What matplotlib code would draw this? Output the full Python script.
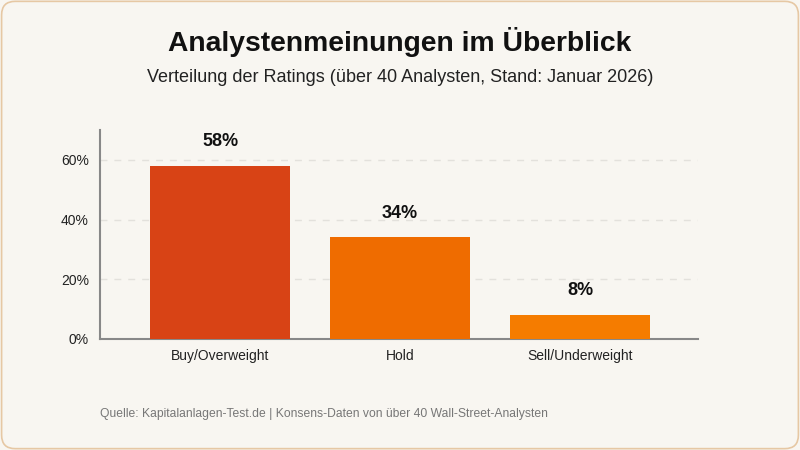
import matplotlib.pyplot as plt
from matplotlib.patches import FancyBboxPatch
from matplotlib.ticker import FuncFormatter

plt.rcParams["font.family"] = ["Liberation Sans", "DejaVu Sans"]

categories = ["Buy/Overweight", "Hold", "Sell/Underweight"]
shares = [58, 34, 8]
bar_colors = ["#d84315", "#ef6c00", "#f57c00"]
y_ticks = [0, 20, 40, 60]

bg = "#f8f6f1"

fig = plt.figure(figsize=(8, 4.5), dpi=100)
fig.patch.set_facecolor(bg)

# rounded frame around the whole card
frame = FancyBboxPatch((0.002, 0.003), 0.996, 0.994,
                       boxstyle="round,pad=0,rounding_size=0.017",
                       transform=fig.transFigure, facecolor=bg,
                       edgecolor="#e6c8a4", linewidth=1.2, zorder=-1,
                       mutation_aspect=800 / 450)
fig.patches.append(frame)

ax = fig.add_axes([100 / 800, 1 - 339 / 450, 598 / 800, 209 / 450])
ax.set_facecolor(bg)

x = range(len(categories))
bars = ax.bar(x, shares, width=0.78, color=bar_colors, zorder=3)

for i, v in enumerate(shares):
    ax.text(i, v + 5.3, f"{v}%", ha="center", va="bottom",
            fontsize=13, fontweight="bold", color="#111111")

ax.set_xlim(-0.667, 2.656)
ax.set_ylim(0, 70)
ax.set_yticks(y_ticks)
ax.yaxis.set_major_formatter(FuncFormatter(lambda v, p: f"{v:.0f}%"))
ax.set_xticks(list(x))
ax.set_xticklabels(categories)
ax.tick_params(axis="both", length=0, labelsize=10, colors="#222222")
ax.tick_params(axis="x", pad=7)
ax.tick_params(axis="y", pad=8)

ax.grid(axis="y", linestyle=(0, (5, 5)), color="#e3e1dc", linewidth=1, zorder=0)
for s in ["top", "right"]:
    ax.spines[s].set_visible(False)
for s in ["left", "bottom"]:
    ax.spines[s].set_color("#888888")
    ax.spines[s].set_linewidth(1.5)

fig.text(0.5, 1 - 42 / 450, "Analystenmeinungen im Überblick", ha="center",
         va="center", fontsize=20.3, fontweight="bold", color="#111111")
fig.text(0.5, 1 - 77 / 450,
         "Verteilung der Ratings (über 40 Analysten, Stand: Januar 2026)",
         ha="center", va="center", fontsize=13, color="#222222")
fig.text(100 / 800, 1 - 414 / 450,
         "Quelle: Kapitalanlagen-Test.de | Konsens-Daten von über 40 Wall-Street-Analysten",
         ha="left", va="center", fontsize=8.7, color="#777777")

fig.savefig("out.png", dpi=100, facecolor=bg)
